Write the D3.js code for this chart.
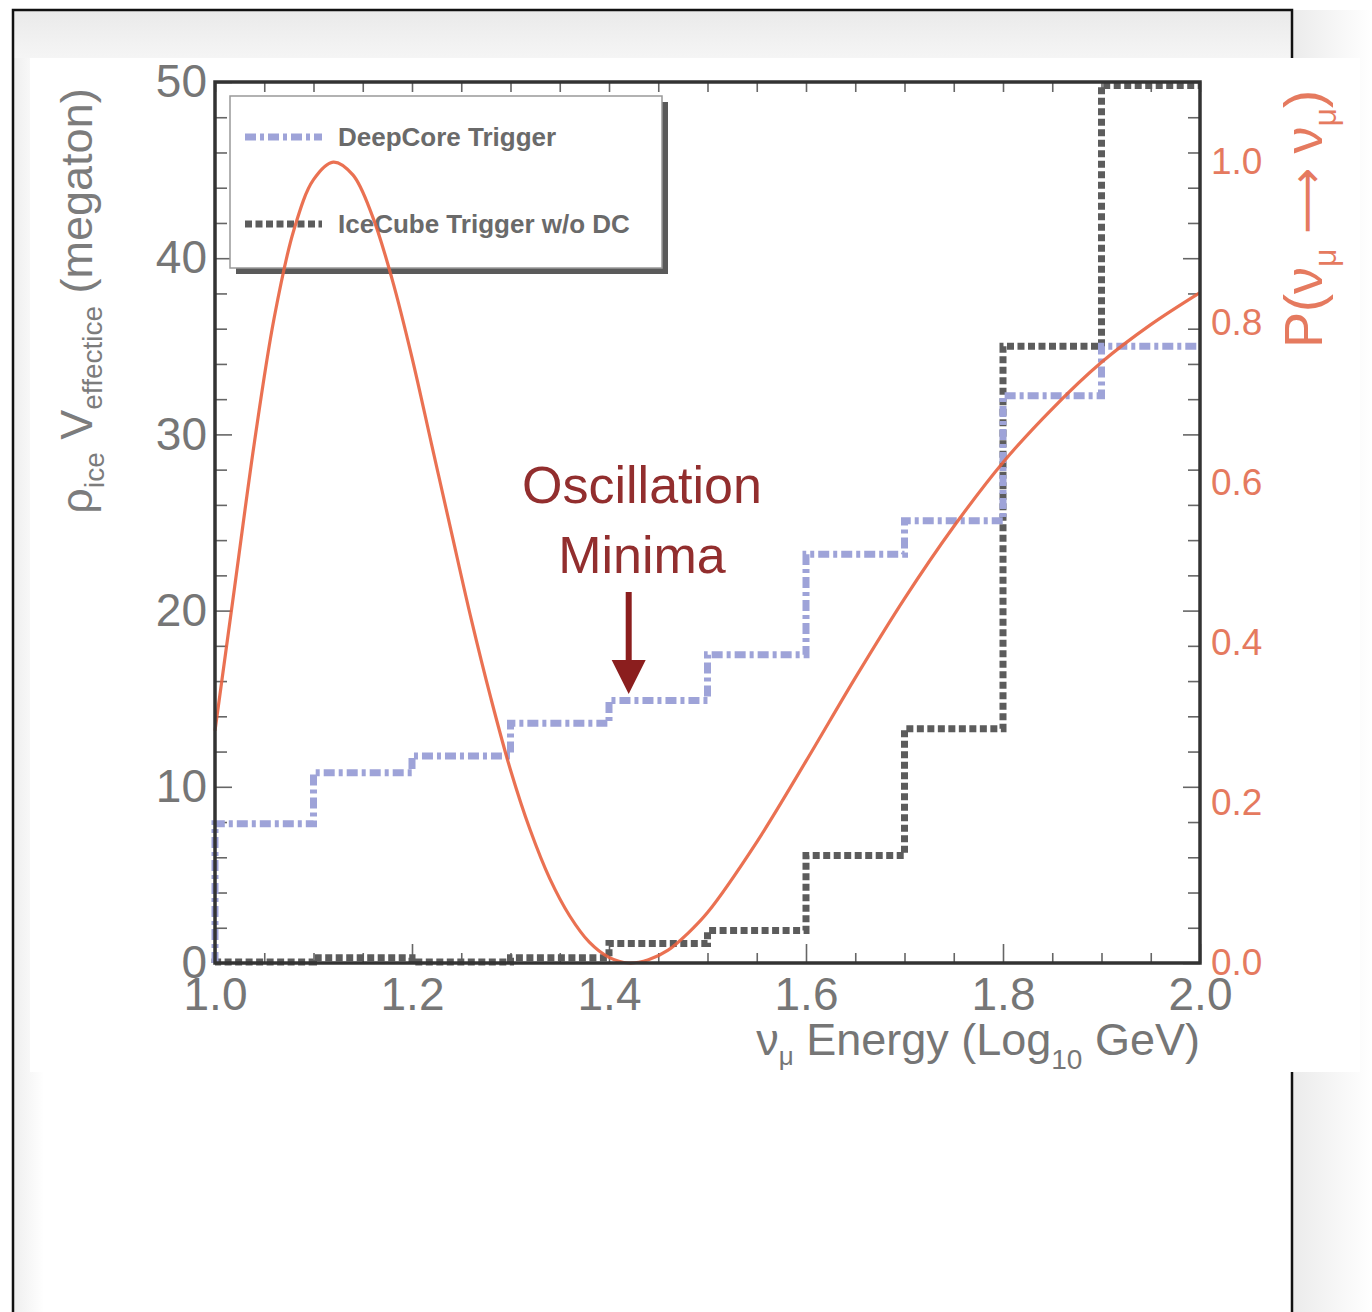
<!DOCTYPE html>
<html>
<head>
<meta charset="utf-8">
<script src="https://cdn.jsdelivr.net/npm/d3@7"></script>
<style>
  body { margin: 0; background: #fff; }
  svg text { font-family: "Liberation Sans", Arial, Helvetica, sans-serif; }
</style>
</head>
<body>
<div id="chart"></div>
<script>
// bin edges in log10(E/GeV)
const binEdges = [1.0, 1.1, 1.2, 1.3, 1.4, 1.5, 1.6, 1.7, 1.8, 1.9, 2.0]
// effective mass (megaton) per bin
const deepCore = [7.9, 10.8, 11.75, 13.6, 14.9, 17.5, 23.2, 25.1, 32.2, 35.0]
const iceCube = [0.05, 0.3, 0.05, 0.3, 1.1, 1.85, 6.1, 13.3, 35.0, 49.8]

// survival probability
const probX = [1.00, 1.02, 1.04, 1.06, 1.08, 1.10, 1.12, 1.14, 1.16, 1.18, 1.20, 1.22, 1.24, 1.26, 1.28,
  1.30, 1.32, 1.34, 1.36, 1.38, 1.40, 1.42, 1.44, 1.46, 1.48, 1.50, 1.55, 1.60, 1.65, 1.70, 1.75,
  1.80, 1.85, 1.90, 1.95, 2.00]
const probY = [0.29, 0.47, 0.65, 0.805, 0.915, 0.978, 1.0, 0.984, 0.932, 0.853, 0.756, 0.647, 0.538, 0.43, 0.331,
  0.241, 0.166, 0.105, 0.059, 0.026, 0.007, 0.0, 0.004, 0.016, 0.037, 0.063, 0.151, 0.252, 0.356, 0.455, 0.545,
  0.625, 0.692, 0.75, 0.797, 0.837]

const leftTicks = [0, 10, 20, 30, 40, 50]
const rightTicks = [0, 0.2, 0.4, 0.6, 0.8, 1.0]
const xTicks = [1.0, 1.2, 1.4, 1.6, 1.8, 2.0]
const legendLabels = ['DeepCore Trigger', 'IceCube Trigger w/o DC']
const noteLines = ['Oscillation', 'Minima']

const W = 1372, H = 1312
const grey = '#767676'
const salmon = '#e57a5f'

const svg = d3.select('#chart')
  .append('svg')
  .attr('width', W)
  .attr('height', H)

const defs = svg.append('defs')
const topShade = defs.append('linearGradient').attr('id', 'topShade')
  .attr('x1', 0).attr('y1', 0).attr('x2', 0).attr('y2', 1)
topShade.append('stop').attr('offset', '0%').attr('stop-color', '#eaeaea')
topShade.append('stop').attr('offset', '100%').attr('stop-color', '#f8f8f8')
const sideShade = defs.append('linearGradient').attr('id', 'sideShade')
  .attr('x1', 0).attr('y1', 0).attr('x2', 1).attr('y2', 0)
sideShade.append('stop').attr('offset', '0%').attr('stop-color', '#efefef')
sideShade.append('stop').attr('offset', '100%').attr('stop-color', '#ffffff')
const rightShade = defs.append('linearGradient').attr('id', 'rightShade')
  .attr('x1', 0).attr('y1', 0).attr('x2', 1).attr('y2', 0)
rightShade.append('stop').attr('offset', '0%').attr('stop-color', '#ebebeb')
rightShade.append('stop').attr('offset', '100%').attr('stop-color', '#ffffff')

// page background / outer frame
svg.append('rect').attr('x', 1292).attr('y', 10).attr('width', 80).attr('height', H)
  .attr('fill', 'url(#rightShade)')
svg.append('rect').attr('x', 14).attr('y', 11).attr('width', 1277).attr('height', 60)
  .attr('fill', 'url(#topShade)')
svg.append('rect').attr('x', 14).attr('y', 58).attr('width', 30).attr('height', H)
  .attr('fill', 'url(#sideShade)')
svg.append('rect').attr('x', 44).attr('y', 1072).attr('width', 1247).attr('height', 240)
  .attr('fill', '#fff')
svg.append('rect').attr('x', 13).attr('y', 10).attr('width', 1279).attr('height', H + 10)
  .attr('fill', 'none').attr('stroke', '#111').attr('stroke-width', 2.5)
svg.append('rect').attr('x', 30).attr('y', 58).attr('width', 1330).attr('height', 1014)
  .attr('fill', '#fff')

const plot = { left: 215, right: 1200, top: 82, bottom: 963 }

const x = d3.scaleLinear().domain([1, 2]).range([plot.left, plot.right])
const yL = d3.scaleLinear().domain([0, 50]).range([plot.bottom, plot.top])
const yR = d3.scaleLinear().domain([0, 1.1]).range([plot.bottom, plot.top])

const minorY = d3.range(0, 51, 2).filter(v => v % 10 !== 0)
const minorX = d3.range(0, 21).map(i => 1 + i * 0.05).filter(v => Math.abs(v * 5 - Math.round(v * 5)) > 1e-6)
const allX = d3.range(0, 21).map(i => 1 + i * 0.05)

function styleTicks(g, size) {
  g.select('.domain').remove()
  g.selectAll('.tick line').attr('stroke', '#666').attr('stroke-width', 1.6)
  g.selectAll('.tick text').attr('fill', grey).attr('font-size', size)
}

// left axis
svg.append('g').attr('transform', `translate(${plot.left},0)`)
  .call(d3.axisLeft(yL).tickValues(leftTicks).tickSize(-17).tickPadding(8))
  .call(g => styleTicks(g, 46))
svg.append('g').attr('transform', `translate(${plot.left},0)`)
  .call(d3.axisLeft(yL).tickValues(minorY).tickSize(-12).tickFormat(''))
  .call(g => styleTicks(g, 0))

// right side ticks (mirrored left)
svg.append('g').attr('transform', `translate(${plot.right},0)`)
  .call(d3.axisRight(yL).tickValues(leftTicks).tickSize(-17).tickFormat(''))
  .call(g => styleTicks(g, 0))
svg.append('g').attr('transform', `translate(${plot.right},0)`)
  .call(d3.axisRight(yL).tickValues(minorY).tickSize(-12).tickFormat(''))
  .call(g => styleTicks(g, 0))

// right probability labels
svg.append('g').attr('transform', `translate(${plot.right},0)`)
  .call(d3.axisRight(yR).tickValues(rightTicks).tickSize(0).tickPadding(11).tickFormat(d3.format('.1f')))
  .call(g => styleTicks(g, 37))
  .call(g => g.selectAll('.tick text').attr('fill', salmon))

// bottom axis
svg.append('g').attr('transform', `translate(0,${plot.bottom})`)
  .call(d3.axisBottom(x).tickValues(xTicks).tickSize(-19).tickPadding(14).tickFormat(d3.format('.1f')))
  .call(g => styleTicks(g, 46))
svg.append('g').attr('transform', `translate(0,${plot.bottom})`)
  .call(d3.axisBottom(x).tickValues(minorX).tickSize(-10).tickFormat(''))
  .call(g => styleTicks(g, 0))

// top ticks
svg.append('g').attr('transform', `translate(0,${plot.top})`)
  .call(d3.axisTop(x).tickValues(allX).tickSize(-10).tickFormat(''))
  .call(g => styleTicks(g, 0))

// legend (drawn under the curves)
const legend = svg.append('g').attr('transform', 'translate(230,96)')
legend.append('rect').attr('x', 6).attr('y', 6).attr('width', 432).attr('height', 172).attr('fill', '#5a5a5a')
legend.append('rect').attr('x', 0).attr('y', 0).attr('width', 432).attr('height', 172)
  .attr('fill', '#fff').attr('stroke', '#999').attr('stroke-width', 1.5)

const legendStyles = [
  { stroke: '#9ea3d8', dash: '11,4,4,4', cy: 41 },
  { stroke: '#5c5c5c', dash: '7,3.5', cy: 128 }
]
legend.selectAll('g.entry')
  .data(legendLabels)
  .enter()
  .append('g')
  .attr('class', 'entry')
  .each(function(label, i) {
    const s = legendStyles[i]
    const g = d3.select(this)
    g.append('line')
      .attr('x1', 15).attr('x2', 92).attr('y1', s.cy).attr('y2', s.cy)
      .attr('stroke', s.stroke).attr('stroke-width', 7).attr('stroke-dasharray', s.dash)
    g.append('text')
      .attr('x', 108).attr('y', s.cy).attr('dy', '0.35em')
      .attr('font-size', 26).attr('font-weight', 'bold').attr('fill', '#6a6a6a')
      .text(label)
  })

// histograms
const stepLine = d3.line()
  .x(d => x(d[0]))
  .y(d => yL(d[1]))
  .curve(d3.curveStepAfter)

const histPoints = vals => [[binEdges[0], 0]]
  .concat(vals.map((v, i) => [binEdges[i], v]))
  .concat([[binEdges[binEdges.length - 1], vals[vals.length - 1]]])

svg.append('path')
  .attr('d', stepLine(histPoints(iceCube)))
  .attr('fill', 'none')
  .attr('stroke', '#5c5c5c')
  .attr('stroke-width', 7)
  .attr('stroke-dasharray', '7,3.5')

svg.append('path')
  .attr('d', stepLine(histPoints(deepCore)))
  .attr('fill', 'none')
  .attr('stroke', '#9ea3d8')
  .attr('stroke-width', 7)
  .attr('stroke-dasharray', '11,4,4,4')

// oscillation probability
const probLine = d3.line()
  .x((d, i) => x(probX[i]))
  .y(d => yR(d))
  .curve(d3.curveCatmullRom)

svg.append('path')
  .attr('d', probLine(probY))
  .attr('fill', 'none')
  .attr('stroke', '#e8623f')
  .attr('stroke-width', 3.2)
  .attr('opacity', 0.9)

// plot frame
svg.append('rect')
  .attr('x', plot.left).attr('y', plot.top)
  .attr('width', plot.right - plot.left).attr('height', plot.bottom - plot.top)
  .attr('fill', 'none').attr('stroke', '#333').attr('stroke-width', 3.5)

// annotation
svg.selectAll('text.note')
  .data(noteLines)
  .enter()
  .append('text')
  .attr('class', 'note')
  .attr('x', 642)
  .attr('y', (d, i) => 503 + i * 70)
  .attr('text-anchor', 'middle')
  .attr('font-size', 52)
  .attr('fill', '#922e2e')
  .text(d => d)

svg.append('line')
  .attr('x1', x(1.42)).attr('x2', x(1.42)).attr('y1', 592).attr('y2', 668)
  .attr('stroke', '#8b1e1e').attr('stroke-width', 6)
svg.append('path')
  .attr('d', `M${x(1.42) - 17},660 L${x(1.42) + 17},660 L${x(1.42)},694 Z`)
  .attr('fill', '#8b1e1e')

// axis titles
const leftTitle = svg.append('text')
  .attr('transform', 'translate(92,301) rotate(-90)')
  .attr('text-anchor', 'middle')
  .attr('font-size', 45)
  .attr('fill', '#7c7c7c')
leftTitle.append('tspan').text('ρ')
leftTitle.append('tspan').attr('font-size', 28).attr('dy', 12).text('ice')
leftTitle.append('tspan').attr('dy', -12).text(' V')
leftTitle.append('tspan').attr('font-size', 28).attr('dy', 10).text('effectice')
leftTitle.append('tspan').attr('dy', -10).text(' (megaton)')

const rightTitle = svg.append('text')
  .attr('transform', 'translate(1322,219) rotate(-90)')
  .attr('text-anchor', 'middle')
  .attr('font-size', 54)
  .attr('fill', salmon)
rightTitle.append('tspan').text('P(ν')
rightTitle.append('tspan').attr('font-size', 32).attr('dy', 14).text('μ')
rightTitle.append('tspan').attr('dy', -14).attr('font-family', '"DejaVu Sans", sans-serif')
  .attr('font-size', 46).text(' ⟶ ')
rightTitle.append('tspan').text('ν')
rightTitle.append('tspan').attr('font-size', 32).attr('dy', 14).text('μ')
rightTitle.append('tspan').attr('dy', -14).text(')')

const xTitle = svg.append('text')
  .attr('x', 1200).attr('y', 1055)
  .attr('text-anchor', 'end')
  .attr('font-size', 45)
  .attr('fill', grey)
xTitle.append('tspan').text('ν')
xTitle.append('tspan').attr('font-size', 26).attr('dy', 10).text('μ')
xTitle.append('tspan').attr('dy', -10).text(' Energy (Log')
xTitle.append('tspan').attr('font-size', 28).attr('dy', 14).text('10')
xTitle.append('tspan').attr('dy', -14).text(' GeV)')
</script>
</body>
</html>
